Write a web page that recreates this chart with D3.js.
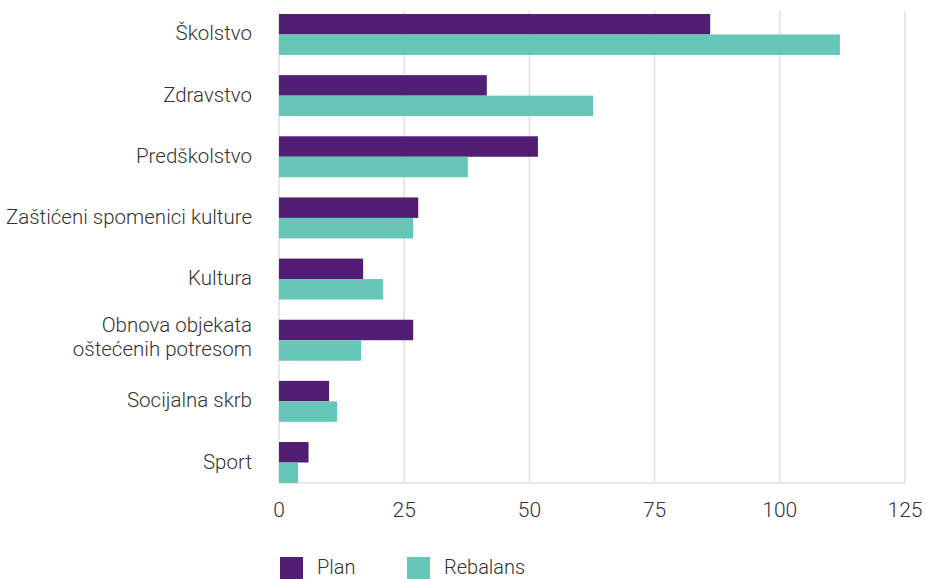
<!DOCTYPE html>
<html>
<head>
<meta charset="utf-8">
<script src="https://cdn.jsdelivr.net/npm/d3@7"></script>
<style>
  body { margin: 0; background: #fff; }
  text { font-family: Roboto, sans-serif; font-weight: 300; fill: #333; }
</style>
</head>
<body>
<div class="canvas"></div>
<script>
// data
const categories = [
  ['Školstvo'],
  ['Zdravstvo'],
  ['Predškolstvo'],
  ['Zaštićeni spomenici kulture'],
  ['Kultura'],
  ['Obnova objekata', 'oštećenih potresom'],
  ['Socijalna skrb'],
  ['Sport']
];
const plan = [86.1, 41.5, 51.7, 27.8, 16.8, 26.8, 10.0, 5.9];
const rebalans = [112.0, 62.7, 37.7, 26.8, 20.8, 16.4, 11.6, 3.8];
const series = ['Plan', 'Rebalans'];
const colors = ['#521e74', '#66c6b7'];
const xTicks = [0, 25, 50, 75, 100, 125];

const width = 926, height = 579;
const plotLeft = 279, plotRight = 905, plotTop = 14, plotBottom = 483;

const svg = d3.select('.canvas').append('svg').attr('width', width).attr('height', height);

const x = d3.scaleLinear().domain([0, 125]).range([plotLeft, plotRight]);
const y = d3.scaleBand().domain(d3.range(categories.length)).range([plotTop, plotBottom]).paddingInner(0.33).paddingOuter(0);
const sub = d3.scaleBand().domain(series).range([0, y.bandwidth()]);

//gridlines
svg.append('g')
  .selectAll('line')
  .data(xTicks)
  .join('line')
  .attr('x1', d => x(d)).attr('x2', d => x(d))
  .attr('y1', 11).attr('y2', plotBottom)
  .attr('stroke', '#e0e0e0').attr('stroke-width', 1.5);

svg.append('line')
  .attr('x1', plotLeft).attr('x2', plotRight)
  .attr('y1', plotBottom).attr('y2', plotBottom)
  .attr('stroke', '#e0e0e0').attr('stroke-width', 1.5);

//bars
const rows = categories.map((c, i) => ({ i, vals: [plan[i], rebalans[i]] }));
const groups = svg.append('g').selectAll('g')
  .data(rows)
  .join('g')
  .attr('transform', d => `translate(0, ${y(d.i)})`);

groups.selectAll('rect')
  .data(d => d.vals.map((v, k) => ({ v, k })))
  .join('rect')
  .attr('x', x(0))
  .attr('y', d => sub(series[d.k]))
  .attr('width', d => x(d.v) - x(0))
  .attr('height', sub.bandwidth())
  .attr('fill', d => colors[d.k]);

//category labels
const labels = svg.append('g').selectAll('text')
  .data(categories)
  .join('text')
  .attr('text-anchor', 'end')
  .attr('font-size', 20.5)
  .attr('x', plotLeft - 27)
  .attr('y', (d, i) => y(i) + y.bandwidth() / 2 + 6 - (d.length - 1) * 14.5);

labels.selectAll('tspan')
  .data(d => d)
  .join('tspan')
  .attr('x', plotLeft - 27)
  .attr('dy', (d, j) => j === 0 ? 0 : 24)
  .text(d => d);

//x tick labels
svg.append('g').selectAll('text')
  .data(xTicks)
  .join('text')
  .attr('x', d => x(d))
  .attr('y', 517)
  .attr('text-anchor', 'middle')
  .attr('font-size', 21)
  .text(d => d);

//legend
const legend = svg.append('g').selectAll('g')
  .data(series)
  .join('g')
  .attr('transform', (d, i) => `translate(${280 + i * 127}, 557)`);

legend.append('rect')
  .attr('width', 23).attr('height', 23)
  .attr('fill', (d, i) => colors[i]);

legend.append('text')
  .attr('x', 37).attr('y', 17)
  .attr('font-size', 20)
  .text(d => d);
</script>
</body>
</html>
